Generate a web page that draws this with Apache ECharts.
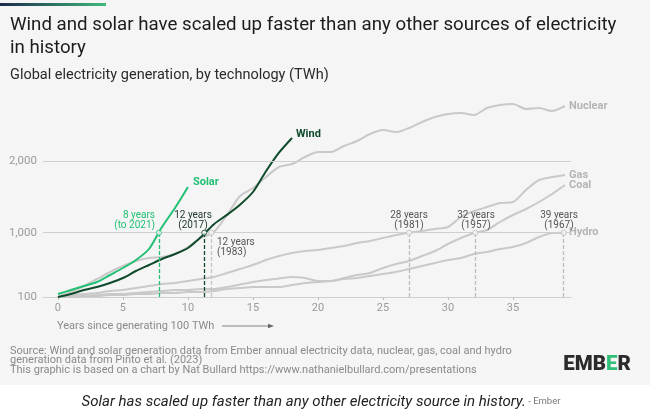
<!DOCTYPE html>
<html><head><meta charset="utf-8">
<script src="https://cdn.jsdelivr.net/npm/echarts@6/dist/echarts.min.js"></script>
<style>html,body{margin:0;padding:0;background:#fff}#c{width:658px;height:417px}</style>
</head><body><div id="c"></div>
<script>
// Years since each technology first generated 100 TWh (index = year)
const xTicks = [0, 5, 10, 15, 20, 25, 30, 35];
const yTicks = [100, 1000, 2000];
const solar = [142,198,254,310,408,506,618,772,1080,1346,1640];
const wind = [100,142,198,240,296,366,464,548,632,702,786,940,1120,1250,1392,1570,1860,2120,2326];
const nuclear = [100,170,254,352,450,534,604,646,660,702,800,926,1010,1248,1514,1626,1780,1920,1962,2060,2130,2130,2214,2284,2382,2438,2410,2466,2550,2620,2662,2676,2648,2746,2788,2802,2732,2746,2704,2774];
const gas = [100,128,142,156,184,198,226,254,282,296,324,352,380,436,492,548,618,674,716,744,758,786,814,856,884,926,968,1003,1024,1052,1080,1220,1304,1360,1416,1430,1598,1738,1780,1808];
const coal = [100,114,114,128,142,142,156,170,184,198,198,212,212,240,275,310,338,359,380,366,324,324,366,408,436,506,562,604,674,744,842,926,996,1038,1150,1248,1332,1430,1542,1668];
const hydro = [100,100,114,114,128,128,142,142,156,156,170,170,184,212,226,240,240,240,268,296,310,324,352,366,394,422,450,492,534,576,618,646,702,730,772,800,856,940,996,1000];
// years taken to reach 1,000 TWh
const reach1000 = {Solar: 7.77, Wind: 11.25, Nuclear: 11.8, Gas: 27.0, Coal: 32.1, Hydro: 38.9};
const annotations = [
  {name:'Solar', lines:['8 years','(to 2021)']},
  {name:'Wind', lines:['12 years','(2017)']},
  {name:'Nuclear', lines:['12 years','(1983)']},
  {name:'Gas', lines:['28 years','(1981)']},
  {name:'Coal', lines:['32 years','(1957)']},
  {name:'Hydro', lines:['39 years','(1967)']}
];

const F = 'Roboto, "Noto Sans", sans-serif';
const GREEN = '#22bf75', DARK = '#0f4a2b', GRAY = '#c9c9c9', LAB = '#b4b4b4';
const toPts = arr => arr.map((v, i) => [i, v]);

function mkSeries(name, data, color, z, labelOffset, dashColor) {
  return {
    name, type: 'line', data: toPts(data), smooth: 0.25, showSymbol: false, symbol: 'none',
    z, lineStyle: {color, width: 2}, itemStyle: {color},
    emphasis: {disabled: true},
    endLabel: {show: true, formatter: name, color: name === 'Solar' || name === 'Wind' ? color : LAB,
      fontFamily: F, fontWeight: 'bold', fontSize: 11, offset: labelOffset, distance: 4},
    markLine: {
      silent: true, symbol: 'none', animation: false, z: z + 1,
      lineStyle: {color: dashColor, type: [4, 2], width: 1.3, opacity: 1},
      emphasis: {disabled: true},
      label: {show: false},
      data: [[{coord: [reach1000[name], 100], lineStyle: {color: dashColor}}, {coord: [reach1000[name], 1000]}]]
    }
  };
}

const chart = echarts.init(document.getElementById('c'), null, {renderer: 'canvas'});
const series = [
  mkSeries('Hydro', hydro, GRAY, 2, [0, 0], '#bcbcbc'),
  mkSeries('Coal', coal, GRAY, 2, [0, 0], '#bcbcbc'),
  mkSeries('Gas', gas, GRAY, 2, [0, 0], '#bcbcbc'),
  mkSeries('Nuclear', nuclear, GRAY, 2, [0, 0], '#c4c4c4'),
  mkSeries('Wind', wind, DARK, 4, [0, -4], DARK),
  mkSeries('Solar', solar, GREEN, 5, [1, -5], GREEN),
  {
    type: 'line', data: [], silent: true,
    markLine: {silent: true, symbol: 'none', animation: false,
      lineStyle: {color: '#cfcfcf', type: 'solid', width: 1}, label: {show: false},
      data: yTicks.slice(1).map(v => ({yAxis: v}))}
  },
  {
    type: 'scatter', z: 6, silent: true, symbol: 'circle', symbolSize: 5,
    data: Object.keys(reach1000).map(k => ({value: [reach1000[k], 1000],
      itemStyle: {color: '#f7f7f7', borderWidth: 1,
        borderColor: k === 'Solar' ? GREEN : (k === 'Wind' ? DARK : '#bdbdbd')}}))
  }
];

const annoPos = {
  Solar: {x: 155, y: 210, align: 'right', color: GREEN},
  Wind: {x: 193, y: 210, align: 'center', color: '#1b3527'},
  Nuclear: {x: 217, y: 237, align: 'left', color: '#555'},
  Gas: {x: 409, y: 210, align: 'center', color: '#555'},
  Coal: {x: 476, y: 210, align: 'center', color: '#555'},
  Hydro: {x: 559, y: 210, align: 'center', color: '#555'}
};
const graphics = [
  {type: 'rect', z: -10, silent: true, shape: {x: 0, y: 0, width: 650, height: 385}, style: {fill: '#f5f5f5'}},
  {type: 'rect', z: 10, silent: true, shape: {x: 0, y: 3, width: 106, height: 3},
    style: {fill: new echarts.graphic.LinearGradient(0, 0, 1, 0, [{offset: 0, color: '#1d2a4d'}, {offset: 1, color: '#3fb97a'}])}},
  {type: 'text', x: 10, y: 25, style: {text: 'Wind and solar have scaled up faster than any other sources of electricity', font: '18.7px ' + F, fill: '#1c1c1c', textVerticalAlign: 'middle'}},
  {type: 'text', x: 10, y: 48, style: {text: 'in history', font: '18.7px ' + F, fill: '#1c1c1c', textVerticalAlign: 'middle'}},
  {type: 'text', x: 10, y: 75, style: {text: 'Global electricity generation, by technology (TWh)', font: '14.5px ' + F, fill: '#2a2a2a', textVerticalAlign: 'middle'}},
  {type: 'text', x: 57, y: 326, style: {text: 'Years since generating 100 TWh', font: '11px ' + F, fill: '#8a8a8a', textVerticalAlign: 'middle'}},
  {type: 'line', shape: {x1: 222, y1: 326, x2: 271, y2: 326}, style: {stroke: '#666', lineWidth: 0.8}},
  {type: 'polygon', shape: {points: [[274, 326], [268, 323.8], [268, 328.2]]}, style: {fill: '#666'}},
  {type: 'text', x: 10, y: 346, style: {text: 'Source: Wind and solar generation data from Ember annual electricity data, nuclear, gas, coal and hydro\ngeneration data from Pinto et al. (2023)\nThis graphic is based on a chart by Nat Bullard https://www.nathanielbullard.com/presentations', font: '11px ' + F, fill: '#8a8a8a', lineHeight: 9.8}},
  {type: 'text', x: 597, y: 365, style: {text: '{a|EMB}{b|E}{a|R}', textAlign: 'center', textVerticalAlign: 'middle',
    rich: {a: {font: '900 20.5px ' + F, fill: '#2b2b2b'}, b: {font: '900 20.5px ' + F, fill: '#2fbf76'}}}},
  {type: 'text', x: 321, y: 402, style: {text: '{a|Solar has scaled up faster than any other electricity source in history.}{b| - Ember}', textAlign: 'center', textVerticalAlign: 'middle',
    rich: {a: {font: 'italic 15px ' + F, fill: '#222'}, b: {font: '9.5px ' + F, fill: '#777'}}}}
];
annotations.forEach(a => {
  const p = annoPos[a.name];
  graphics.push({type: 'text', x: p.x, y: p.y, style: {text: a.lines.join('\n'), font: '10px ' + F, fill: p.color,
    textAlign: p.align, textVerticalAlign: 'top', lineHeight: 10}, z: 20});
});

chart.setOption({
  backgroundColor: '#ffffff',
  animation: false,
  grid: {left: 43, right: 87, top: 97, bottom: 120},
  xAxis: {
    type: 'value', min: -1.15, max: 39.46,
    axisLine: {show: true, lineStyle: {color: '#cfcfcf', width: 1}},
    axisTick: {show: true, customValues: xTicks, length: 3, inside: false, lineStyle: {color: '#bdbdbd'}},
    axisLabel: {customValues: xTicks, color: '#9a9a9a', fontFamily: F, fontSize: 11, margin: 6},
    splitLine: {show: false}
  },
  yAxis: {
    type: 'value', min: 100, max: 2900,
    axisLine: {show: false}, axisTick: {show: false},
    axisLabel: {customValues: yTicks, color: '#9a9a9a', fontFamily: F, fontSize: 11.5, margin: 6},
    splitLine: {show: false}
  },
  series,
  graphic: graphics
});
</script></body></html>
